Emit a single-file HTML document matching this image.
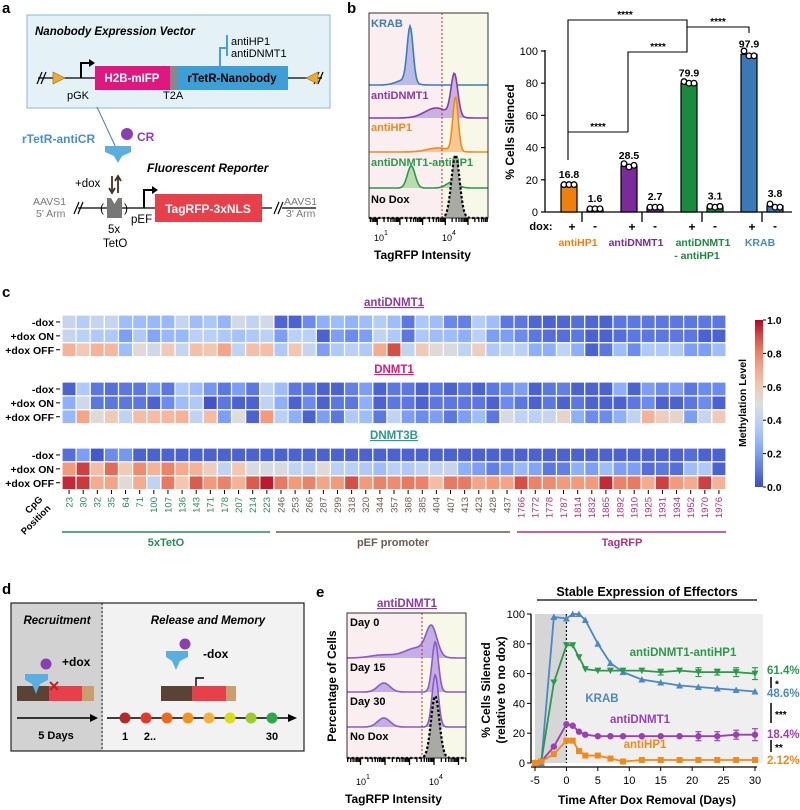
<!DOCTYPE html>
<html><head><meta charset="utf-8"><style>
html,body{margin:0;padding:0;background:#fff;}
svg{display:block;font-family:"Liberation Sans",Arial,sans-serif;}
.b{font-weight:bold;}
</style></head><body>
<svg id="fig" width="800" height="810" viewBox="0 0 800 810" xmlns="http://www.w3.org/2000/svg">
<text x="2" y="13" class="b" font-size="15">a</text>
<text x="347" y="13" class="b" font-size="15">b</text>
<text x="2" y="297" class="b" font-size="15">c</text>
<text x="2" y="594" class="b" font-size="15">d</text>
<text x="316" y="597" class="b" font-size="15">e</text>

<g>
<rect x="27" y="15" width="303" height="93" fill="#e4f2f7" stroke="#9cc3d6" stroke-width="1.2"/>
<text x="35" y="35" font-size="11.5" font-weight="bold" font-style="italic">Nanobody Expression Vector</text>
<path d="M220,67 L220,48 L227,48 M227,35 L227,56" stroke="#4a9fd6" stroke-width="2" fill="none"/>
<text x="231" y="45" font-size="11">antiHP1</text>
<text x="231" y="57" font-size="11">antiDNMT1</text>
<line x1="38" y1="78" x2="322" y2="78" stroke="#000" stroke-width="1.3"/>
<path d="M37,84 L42,72 M41,84 L46,72 M314,84 L319,72 M318,84 L323,72" stroke="#000" stroke-width="1.2"/>
<polygon points="53,72 65,78 53,84" fill="#f2a92a" stroke="#8a6a20" stroke-width="0.6"/>
<polygon points="318,72 306,78 318,84" fill="#f2a92a" stroke="#8a6a20" stroke-width="0.6"/>
<path d="M81,78 L81,63 L90,63" stroke="#000" stroke-width="2" fill="none"/><polygon points="89,59 95,63 89,67" fill="#000"/>
<text x="67" y="99" font-size="11">pGK</text>
<rect x="95" y="66" width="75" height="24" fill="#e0177e"/>
<text x="132" y="82" font-size="11.5" fill="#fff" font-weight="bold" text-anchor="middle">H2B-mIFP</text>
<rect x="170" y="66" width="7" height="24" fill="#888"/>
<text x="163" y="99" font-size="11">T2A</text>
<rect x="177" y="66" width="111" height="24" fill="#3d9fd6"/>
<text x="232" y="82" font-size="11.5" font-weight="bold" text-anchor="middle">rTetR-Nanobody</text>
</g>
<g>
<line x1="97" y1="107" x2="117" y2="150" stroke="#4a7fa8" stroke-width="1"/>
<text x="22" y="143" font-size="12" font-weight="bold" fill="#4a8fcc">rTetR-antiCR</text>
<circle cx="127" cy="134" r="6" fill="#8a3fb0"/>
<text x="137" y="141" font-size="12" font-weight="bold" fill="#8a3fb0">CR</text>
<path d="M105,146 L131,146 L131,152 L122,156 L118,163 L114,156 L105,152 Z" fill="#5aaee0"/>
<text x="147" y="172" font-size="12" font-weight="bold" font-style="italic">Fluorescent Reporter</text>
<text x="75" y="187" font-size="11.5">+dox</text>
<path d="M112,176 L112,192 M109,188 L112,193 L115,188 M118,193 L118,177 M115,181 L118,176 L121,181" stroke="#4a3020" stroke-width="1.8" fill="none"/>
<line x1="78" y1="208" x2="272" y2="208" stroke="#000" stroke-width="1.3"/>
<line x1="282" y1="208" x2="316" y2="208" stroke="#000" stroke-width="1.3"/>
<path d="M74,214 L79,202 M78,214 L83,202 M274,214 L279,202 M278,214 L283,202" stroke="#000" stroke-width="1.2"/>
<text x="33" y="205" font-size="10.5" fill="#777">AAVS1</text>
<text x="36" y="217" font-size="10.5" fill="#777">5' Arm</text>
<text x="284" y="205" font-size="10.5" fill="#777">AAVS1</text>
<text x="286" y="217" font-size="10.5" fill="#777">3' Arm</text>
<text x="100" y="212" font-size="12">(</text>
<text x="124" y="212" font-size="12">)</text>
<path d="M107,198 L111,198 L114.5,204 L118,198 L122,198 L122,218 L107,218Z" fill="#777"/>
<text x="108" y="233" font-size="11.5">5x</text>
<text x="103" y="247" font-size="11.5">TetO</text>
<text x="131" y="223" font-size="11.5">pEF</text>
<path d="M144,208 L144,190 L153,190" stroke="#000" stroke-width="2" fill="none"/><polygon points="152,186 158,190 152,194" fill="#000"/>
<rect x="155" y="194" width="107" height="28" fill="#e8404a"/>
<text x="208" y="213" font-size="12" font-weight="bold" fill="#fff" text-anchor="middle">TagRFP-3xNLS</text>
</g>

<g>
<rect x="11" y="603" width="92" height="148" fill="#d2d2d2"/>
<rect x="103" y="603" width="201" height="148" fill="#f2f2f2"/>
<rect x="11" y="603" width="293" height="148" fill="none" stroke="#222" stroke-width="1.2"/>
<line x1="102" y1="603" x2="102" y2="751" stroke="#222" stroke-width="1" stroke-dasharray="2,2"/>
<text x="57" y="624" font-size="11.5" font-weight="bold" font-style="italic" text-anchor="middle">Recruitment</text>
<text x="208" y="624" font-size="11.5" font-weight="bold" font-style="italic" text-anchor="middle">Release and Memory</text>
<rect x="17" y="686" width="32" height="15" fill="#5a4335"/><rect x="49" y="686" width="33" height="15" fill="#e8404a"/><rect x="82" y="686" width="12" height="15" fill="#c8a070"/>
<path d="M25,674 L48,674 L48,680 L40,684 L36,694 L32,684 L25,680Z" fill="#5aaee0"/>
<circle cx="46" cy="664" r="5.5" fill="#8a3fb0"/>
<path d="M50,690 L58,682 M50,682 L58,690" stroke="#c02020" stroke-width="2"/>
<text x="62" y="666" font-size="12" font-weight="bold">+dox</text>
<line x1="17" y1="718" x2="92" y2="718" stroke="#000" stroke-width="1.5"/><polygon points="90,714 98,718 90,722" fill="#000"/>
<text x="56" y="739" font-size="11" font-weight="bold" text-anchor="middle">5 Days</text>
<rect x="161" y="686" width="31" height="15" fill="#5a4335"/><rect x="192" y="686" width="34" height="15" fill="#e8404a"/><rect x="226" y="686" width="10" height="15" fill="#c8a070"/>
<path d="M196,686 L196,678 L204,678" stroke="#000" stroke-width="1.4" fill="none"/>
<path d="M166,651 L188,651 L188,657 L180,661 L176,670 L172,661 L166,657Z" fill="#5aaee0"/>
<circle cx="185" cy="644" r="5.5" fill="#8a3fb0"/>
<text x="203" y="658" font-size="12" font-weight="bold">-dox</text>
<line x1="107" y1="718" x2="290" y2="718" stroke="#000" stroke-width="1.5"/><polygon points="288,714 297,718 288,722" fill="#000"/>
<g id="dots"></g>
<text x="125" y="740" font-size="11" font-weight="bold" text-anchor="middle">1</text>
<text x="150" y="740" font-size="11" font-weight="bold" text-anchor="middle">2..</text>
<text x="272" y="740" font-size="11" font-weight="bold" text-anchor="middle">30</text>
</g>
<g id="dyn"></g>
</svg>
<script>
const NS='http://www.w3.org/2000/svg';
const svg=document.getElementById('dyn');
function mk(tag,attrs,parent){const e=document.createElementNS(NS,tag);for(const k in attrs)e.setAttribute(k,attrs[k]);(parent||svg).appendChild(e);return e;}
function txt(x,y,s,size,opts,parent){const e=mk('text',Object.assign({x:x,y:y,'font-size':size},opts||{}),parent);e.textContent=s;return e;}

const dotColors=['#b22a2a','#e03a2a','#ee6a1a','#f2931a','#f5b040','#d8dc1a','#9ccc2a','#2aa84a'];
dotColors.forEach((c,i)=>{const d=mk('circle',{cx:125+i*21,cy:718,r:5.5,fill:c},document.getElementById('dots'));

});

// ================= Panel b histogram =================
const bRows=['KRAB','antiDNMT1','antiHP1','antiDNMT1-antiHP1','No Dox'];
const bPeakMean=[[2.45,2.2],[4.4,3.6],[4.45,3.7],[2.5,4.3],[4.45]];
const bPeakSd=[[0.13,0.35],[0.15,0.5],[0.12,0.5],[0.17,0.25],[0.18]];
const bPeakAmp=[[55,5],[42,10],[54,4],[22,6],[63]];
function histPath(means,sds,amps,x0,dec,xa,xb,base){
  const pts=[];
  for(let x=xa;x<=xb;x+=1){const l=(x-x0)/dec;let v=0;for(let k=0;k<means.length;k++){v+=amps[k]*Math.exp(-0.5*Math.pow((l-means[k])/sds[k],2));}pts.push([x,base-v]);}
  return pts;
}
(function(){
  const X0=354.5,DEC=22.7,XA=369,XB=488,TOP=13,BOT=218;
  const bases=[85,118,152,188,218];
  const fills=['#b9bce6','#c7b2e0','#f9c894','#b8dcae','#a9aba2'];
  const strokes=['#3a7cc0','#8a3aa8','#f08a1a','#2a9a4a','#000'];
  const g=mk('g',{});
  
  
  const bgL=mk('rect',{x:XA,y:TOP,width:442-XA,height:BOT-TOP,fill:'#fbeef0'},g);
  
  
  const bgR=mk('rect',{x:442,y:TOP,width:XB-442,height:BOT-TOP,fill:'#f7f8e8'},g);
  
  
  for(let r=0;r<bRows.length;r++){
    const pts=histPath(bPeakMean[r],bPeakSd[r],bPeakAmp[r],X0,DEC,XA,XB,bases[r]);
    const line='M'+pts.map(p=>p[0]+','+p[1].toFixed(1)).join(' L');
    const area=mk('path',{d:line+' L'+XB+','+bases[r]+' L'+XA+','+bases[r]+'Z',fill:fills[r],stroke:'none'},g);
    
    
    const ln=mk('path',{d:line,fill:'none',stroke:strokes[r],'stroke-width':r==4?2.2:1.6,'stroke-dasharray':r==4?'2.5,2':'none'},g);
    
    
    const t=txt(371,[27,99,131,166,203][r],bRows[r],11,{'font-weight':'bold',fill:strokes[r]},g);
    
    
  }
  const th=mk('line',{x1:442,y1:TOP,x2:442,y2:BOT,stroke:'#c03030','stroke-width':1,'stroke-dasharray':'2,2'},g);
  
  
  mk('rect',{x:XA,y:TOP,width:XB-XA,height:BOT-TOP,fill:'none',stroke:'#333','stroke-width':1},g);
  for(let dcd=0;dcd<6;dcd++)for(let m=1;m<10;m++){const x=X0+(dcd+Math.log10(m))*DEC;if(x<XA||x>XB)continue;mk('line',{x1:x,y1:BOT,x2:x,y2:BOT+(m==1?7:4),stroke:'#000','stroke-width':1.3},g);}
  txt(374,241,'10',9,{},g);txt(384,235,'1',7,{},g);
  txt(442,241,'10',9,{},g);txt(452,235,'4',7,{},g);
  const xl=txt(374,259,'TagRFP Intensity',12,{'font-weight':'bold'},g);
  
  
})();

// ================= Panel b bar chart =================
const barCats=['antiHP1','antiDNMT1','antiDNMT1\n- antiHP1','KRAB'];
const barPlus=[16.8,28.5,79.9,97.9];
const barMinus=[1.6,2.7,3.1,3.8];
const repPlus=[[17,17,17],[30,28,29],[81,80,80],[100,97,97]];
const repMinus=[[2,2,2],[3,3,3],[3.5,3,3.5],[5,3,3]];
const barTicks=[0,20,40,60,80,100];
(function(){
  const y=v=>212-v*1.61;const gx=i=>569+i*60;
  const cols=['#f07f0c','#7b2a9a','#1a8a3e','#3a78b8'];
  const g=mk('g',{});
  
  
  barTicks.forEach(t=>{mk('line',{x1:541,y1:y(t),x2:545,y2:y(t),stroke:'#000','stroke-width':1.2},g);
    const tl=txt(538,y(t)+4,String(t),11,{'text-anchor':'end'},g);
    
    });
  mk('line',{x1:545,y1:y(100)-1,x2:545,y2:212,stroke:'#000','stroke-width':1.3},g);
  mk('line',{x1:545,y1:212,x2:792,y2:212,stroke:'#000','stroke-width':1.3},g);
  const yt=txt(0,0,'% Cells Silenced',12,{'font-weight':'bold','text-anchor':'middle',transform:'translate(514,132) rotate(-90)'},g);
  
  
  const dx=txt(541,230,'dox:',11,{'font-weight':'bold','text-anchor':'middle'},g);
  
  
  barCats.forEach((c,i)=>{
    const bp=mk('rect',{x:gx(i)-8,y:y(barPlus[i]),width:16,height:212-y(barPlus[i]),fill:cols[i],stroke:'#000','stroke-width':1.2},g);
    
    
    const bm=mk('rect',{x:gx(i)+18,y:y(barMinus[i]),width:16,height:212-y(barMinus[i]),fill:cols[i],stroke:'#000','stroke-width':1.2},g);
    
    
    repPlus[i].forEach((v,k)=>{const p=mk('circle',{cx:gx(i)-5+k*5,cy:y(v),r:2.8,fill:'#fff',stroke:'#000','stroke-width':1.3},g);
      
      });
    repMinus[i].forEach((v,k)=>{const p=mk('circle',{cx:gx(i)+21+k*5,cy:y(v),r:2.8,fill:'#fff',stroke:'#000','stroke-width':1.3},g);
      
      });
    const vp=txt(gx(i),y(barPlus[i])-7,barPlus[i].toFixed(1),10.5,{'font-weight':'bold','text-anchor':'middle'},g);
    
    
    const vm=txt(gx(i)+26,y(repMinus[i][0])-7,barMinus[i].toFixed(1),10.5,{'font-weight':'bold','text-anchor':'middle'},g);
    
    
    mk('line',{x1:gx(i)+13,y1:212,x2:gx(i)+13,y2:222,stroke:'#000','stroke-width':1.3},g);
    txt(gx(i)+3,231,'+',12,{'font-weight':'bold','text-anchor':'middle'},g);
    txt(gx(i)+26,230,'-',12,{'font-weight':'bold','text-anchor':'middle'},g);
    const parts=c.split('\n');const cx=[578,636,703,760][i];
    parts.forEach((s,k)=>{const gl=txt(k?697:cx,246+k*13,s,10.5,{'font-weight':'bold','text-anchor':'middle',fill:cols[i]==='#3a78b8'?'#4a88c8':cols[i]},g);
      
      });
  });
  const br='M568,160 L568,20 L687,20 L687,52 L628,52 L628,132 M568,132 L628,132 M687,27 L749,27 L749,33';
  const bk=mk('path',{d:br,fill:'none',stroke:'#000','stroke-width':1.1},g);
  
  
  [[625,18],[718,25],[658,50],[598,130]].forEach(p=>{const s=txt(p[0],p[1],'****',10,{'font-weight':'bold','text-anchor':'middle'},g);
    
    });
})();

// ================= Panel c heatmap =================
const hmCols=['23','30','32','35','64','71','100','107','136','143','171','178','207','214','223','246','253','266','287','299','318','320','344','357','368','385','404','407','413','423','428','437','1766','1772','1778','1787','1814','1832','1865','1892','1910','1925','1931','1934','1952','1970','1976'];
const hmRows=['-dox','+dox ON','+dox OFF'];
const antiDNMT1_minus=[0.42,0.36,0.42,0.42,0.3,0.3,0.28,0.28,0.42,0.3,0.34,0.27,0.46,0.4,0.46,0.06,0.05,0.15,0.25,0.3,0.26,0.3,0.36,0.3,0.1,0.34,0.3,0.14,0.12,0.36,0.3,0.1,0.1,0.06,0.05,0.06,0.08,0.06,0.05,0.1,0.1,0.1,0.1,0.1,0.1,0.1,0.1];
const antiDNMT1_on=[0.42,0.38,0.35,0.35,0.2,0.35,0.22,0.28,0.28,0.38,0.38,0.35,0.32,0.35,0.38,0.2,0.38,0.38,0.05,0.2,0.15,0.2,0.4,0.35,0.1,0.34,0.3,0.3,0.25,0.38,0.2,0.2,0.15,0.1,0.08,0.08,0.1,0.05,0.05,0.08,0.1,0.1,0.1,0.1,0.1,0.05,0.05];
const antiDNMT1_off=[0.68,0.6,0.68,0.66,0.3,0.52,0.45,0.6,0.42,0.64,0.62,0.72,0.4,0.64,0.64,0.35,0.62,0.42,0.2,0.35,0.38,0.35,0.7,0.9,0.4,0.6,0.52,0.48,0.4,0.58,0.35,0.4,0.38,0.25,0.25,0.4,0.25,0.05,0.1,0.3,0.15,0.35,0.35,0.35,0.2,0.2,0.3];
const DNMT1_minus=[0.05,0.35,0.1,0.08,0.1,0.1,0.2,0.1,0.35,0.3,0.18,0.1,0.2,0.1,0.4,0.3,0.1,0.1,0.05,0.05,0.12,0.2,0.05,0.1,0.1,0.05,0.1,0.05,0.1,0.05,0.1,0.15,0.2,0.05,0.1,0.12,0.05,0.05,0.05,0.25,0.05,0.2,0.15,0.2,0.1,0.15,0.15];
const DNMT1_on=[0.25,0.45,0.1,0.1,0.1,0.1,0.05,0.15,0.3,0.35,0.02,0.1,0.05,0.05,0.4,0.25,0.05,0.15,0.05,0.1,0.1,0.25,0.05,0.1,0.1,0.05,0.1,0.1,0.1,0.1,0.05,0.15,0.1,0.05,0.1,0.05,0.1,0.05,0.05,0.05,0.1,0.15,0.05,0.05,0.1,0.15,0.05];
const DNMT1_off=[0.28,0.72,0.52,0.6,0.4,0.65,0.65,0.66,0.68,0.4,0.65,0.2,0.5,0.05,0.75,0.38,0.25,0.05,0.2,0.1,0.35,0.3,0.1,0.4,0.2,0.15,0.2,0.1,0.2,0.3,0.1,0.48,0.4,0.38,0.42,0.55,0.25,0.15,0.15,0.25,0.4,0.68,0.58,0.55,0.2,0.42,0.6];
const DNMT3B_minus=[0.08,0.2,0.03,0.15,0.18,0.05,0.05,0.05,0.05,0.05,0.05,0.05,0.05,0.05,0.05,0.05,0.05,0.05,0.05,0.05,0.05,0.05,0.05,0.05,0.05,0.05,0.05,0.05,0.05,0.05,0.05,0.05,0.05,0.05,0.05,0.05,0.05,0.05,0.05,0.05,0.05,0.05,0.05,0.05,0.08,0.05,0.05];
const DNMT3B_on=[0.75,0.92,0.65,0.85,0.6,0.78,0.68,0.8,0.7,0.68,0.58,0.4,0.62,0.48,0.48,0.48,0.4,0.4,0.52,0.38,0.38,0.35,0.3,0.38,0.35,0.4,0.4,0.42,0.25,0.2,0.12,0.2,0.28,0.22,0.1,0.12,0.25,0.2,0.3,0.2,0.2,0.08,0.1,0.08,0.3,0.35,0.05];
const DNMT3B_off=[0.95,0.93,0.7,0.72,0.52,0.7,0.4,0.82,0.62,0.88,0.75,0.8,0.68,0.88,0.97,0.82,0.75,0.8,0.72,0.75,0.9,0.75,0.8,0.78,0.82,0.8,0.65,0.82,0.82,0.72,0.75,0.72,0.9,0.8,0.78,0.75,0.75,0.75,0.95,0.8,0.82,0.7,0.92,0.75,0.7,0.92,0.68];
const hmGroups=['antiDNMT1','DNMT1','DNMT3B'];
const hmData=[[antiDNMT1_minus,antiDNMT1_on,antiDNMT1_off],[DNMT1_minus,DNMT1_on,DNMT1_off],[DNMT3B_minus,DNMT3B_on,DNMT3B_off]];
const cwStops=[[0,[59,76,192]],[0.125,[98,130,234]],[0.25,[141,176,254]],[0.375,[184,208,249]],[0.5,[221,221,221]],[0.625,[245,196,173]],[0.75,[244,154,123]],[0.875,[222,96,77]],[1,[180,4,38]]];
function cw(v){v=Math.max(0,Math.min(1,v));for(let i=1;i<cwStops.length;i++){if(v<=cwStops[i][0]){const a=cwStops[i-1],b=cwStops[i];const t=(v-a[0])/(b[0]-a[0]);const c=a[1].map((x,k)=>Math.round(x+(b[1][k]-x)*t));return 'rgb('+c.join(',')+')';}}return 'rgb(180,4,38)';}
(function(){
  const X0=62,CW=(726-62)/hmCols.length,RH=13.9;
  const tops=[315,382,448];
  const titleCols=['#8a3aa8','#e0177e','#2a9a8a'];
  const g=mk('g',{});
  
  
  hmGroups.forEach((gn,gi)=>{
    const tt=txt(394,tops[gi]-9,gn,11.5,{'font-weight':'bold','text-anchor':'middle',fill:titleCols[gi],'text-decoration':'underline'},g);
    
    
    hmRows.forEach((rn,ri)=>{
      const yy=tops[gi]+ri*RH;
      const rl=txt(54,yy+RH/2+4,rn,10.5,{'font-weight':'bold','text-anchor':'end'},g);
      
      
      mk('line',{x1:56,y1:yy+RH/2,x2:60,y2:yy+RH/2,stroke:'#000','stroke-width':1},g);
      hmData[gi][ri].forEach((v,ci)=>{
        const c=mk('rect',{x:X0+ci*CW,y:yy,width:CW,height:RH,fill:cw(v),stroke:'#fff','stroke-width':1.2},g);
        
        
      });
    });
  });
  hmCols.forEach((c,ci)=>{
    const x=X0+(ci+0.5)*CW;
    mk('line',{x1:x,y1:490,x2:x,y2:494,stroke:'#000','stroke-width':1},g);
    const col=ci<15?'#2a8a5a':(ci<32?'#6b5a50':'#b0307a');
    const t=txt(0,0,c,9.5,{fill:col,'text-anchor':'end',transform:'translate('+(x+3.3)+',497) rotate(-90)'},g);
    
    
  });
  const cp=txt(0,0,'CpG',9.5,{'font-weight':'bold','text-anchor':'middle',transform:'translate(36,507) rotate(-45)'},g);
  
  
  txt(0,0,'Position',9.5,{'font-weight':'bold','text-anchor':'middle',transform:'translate(38,522) rotate(-45)'},g);
  [[62,270,'#2a8a5a','5xTetO',166],[276,510,'#6b5a50','pEF promoter',393],[517,726,'#b0307a','TagRFP',622]].forEach(s=>{
    mk('line',{x1:s[0],y1:532,x2:s[1],y2:532,stroke:s[2],'stroke-width':1.5},g);
    const l=txt(s[4],546,s[3],11,{'font-weight':'bold','text-anchor':'middle',fill:s[2]},g);
    
    
  });
  const defs=mk('defs',{},g);const lg=mk('linearGradient',{id:'cwg',x1:0,y1:1,x2:0,y2:0},defs);
  for(let i=0;i<=10;i++)mk('stop',{offset:i/10,'stop-color':cw(i/10)},lg);
  const cb=mk('rect',{x:755,y:320,width:8,height:167,fill:'url(#cwg)'},g);
  
  
  ['0.0','0.2','0.4','0.6','0.8','1.0'].forEach((s,i)=>{const yy=487-i*33.4;mk('line',{x1:763,y1:yy,x2:766,y2:yy,stroke:'#000'},g);
    const t=txt(767,yy+4,s,10.5,{'font-weight':'bold'},g);
    
    });
  const ml=txt(0,0,'Methylation Level',10.5,{'font-weight':'bold','text-anchor':'middle',transform:'translate(746,403) rotate(-90)'},g);
  
  
})();

// ================= Panel e histogram =================
const eRows=['Day 0','Day 15','Day 30','No Dox'];
const ePeakMean=[[3.9,3.3,1.9],[4.05,1.95],[4.05,1.95],[4.05]];
const ePeakSd=[[0.22,0.5,0.5],[0.13,0.25],[0.13,0.25],[0.17]];
const ePeakAmp=[[28,10,3],[50,9],[52,9],[62]];
(function(){
  const X0=336,DEC=24.5,XA=347,XB=466,TOP=613,BOT=758;
  const bases=[658,692,727,758];
  const g=mk('g',{});
  
  
  const tt=txt(407,607,'antiDNMT1',11.5,{'font-weight':'bold','text-anchor':'middle',fill:'#8a3aa8','text-decoration':'underline'},g);
  
  
  mk('rect',{x:XA,y:TOP,width:422-XA,height:BOT-TOP,fill:'#fbeef0'},g);
  mk('rect',{x:422,y:TOP,width:XB-422,height:BOT-TOP,fill:'#f7f8e8'},g);
  for(let r=0;r<eRows.length;r++){
    const pts=histPath(ePeakMean[r],ePeakSd[r],ePeakAmp[r],X0,DEC,XA,XB,bases[r]);
    const line='M'+pts.map(p=>p[0]+','+p[1].toFixed(1)).join(' L');
    const a=mk('path',{d:line+' L'+XB+','+bases[r]+' L'+XA+','+bases[r]+'Z',fill:r==3?'#a9aba2':'#c5aee6',stroke:'none'},g);
    
    
    const l=mk('path',{d:line,fill:'none',stroke:r==3?'#000':'#8a5ac8','stroke-width':r==3?2.2:1.6,'stroke-dasharray':r==3?'2.5,2':'none'},g);
    
    
    const t=txt(350,[626,671,705,740][r],eRows[r],11,{'font-weight':'bold'},g);
    
    
  }
  mk('line',{x1:422,y1:TOP,x2:422,y2:BOT,stroke:'#c03030','stroke-width':1,'stroke-dasharray':'2,2'},g);
  mk('rect',{x:XA,y:TOP,width:XB-XA,height:BOT-TOP,fill:'none',stroke:'#333'},g);
  for(let dcd=0;dcd<6;dcd++)for(let m=1;m<10;m++){const x=X0+(dcd+Math.log10(m))*DEC;if(x<XA||x>XB)continue;mk('line',{x1:x,y1:BOT,x2:x,y2:BOT+(m==1?7:4),stroke:'#000','stroke-width':1.3},g);}
  txt(356,785,'10',9,{},g);txt(366,779,'1',7,{},g);
  txt(429,785,'10',9,{},g);txt(439,779,'4',7,{},g);
  const xl=txt(345,803,'TagRFP Intensity',12,{'font-weight':'bold'},g);
  
  
  const yl=txt(0,0,'Percentage of Cells',12,{'font-weight':'bold','text-anchor':'middle',transform:'translate(336,686) rotate(-90)'},g);
  
  
})();

// ================= Panel e line chart =================
const days=[-5,-4,-2,0,1,2,3,5,7,9,12,15,18,21,24,27,30];
const krab=[0,0,98,97,100,100,96,80,67,61,56,54,52,51,50,49,48];
const combo=[0,1,54,79,79,71,63,62,62,62,62,61,62,61,61,61,60];
const antiDNMT1Line=[0,1,11,26,25,21,19,18,18,18,18,18,18,18,18,19,19];
const antiHP1Line=[0,1,6,15,15,8,5,5,3,1,2,2,2,2,2,2,2];
const comboErr=[0,0,0,0,0,0,0,0,0,0,0,2,0,3,2,3,4];
const dnmt1Err=[0,0,0,0,0,0,0,0,0,0,0,0,0,3,3,3,4];
const xTicks=[-5,0,5,10,15,20,25,30];
const yTicks=[0,20,40,60,80,100];
(function(){
  const xs=d=>535+(d+5)*220/35;const ys=v=>763-v*1.49;
  const g=mk('g',{});
  
  
  const t=txt(647,596,'Stable Expression of Effectors',12.5,{'font-weight':'bold','text-anchor':'middle'},g);
  
  
  mk('line',{x1:537,y1:600,x2:757,y2:600,stroke:'#000','stroke-width':1.2},g);
  mk('rect',{x:xs(0),y:ys(100),width:xs(30)-xs(0)+8,height:ys(0)-ys(100),fill:'#efefef'},g);
  const sh=mk('rect',{x:xs(-5),y:ys(100),width:xs(0)-xs(-5),height:ys(0)-ys(100),fill:'#d6d6d6'},g);
  
  
  mk('line',{x1:xs(0),y1:ys(100),x2:xs(0),y2:ys(0),stroke:'#000','stroke-width':1.2,'stroke-dasharray':'2,2'},g);
  mk('line',{x1:531,y1:ys(100),x2:531,y2:ys(0),stroke:'#000','stroke-width':1.3},g);
  mk('line',{x1:531,y1:ys(0)+4,x2:xs(30)+2,y2:ys(0)+4,stroke:'#000','stroke-width':1.3},g);
  yTicks.forEach(v=>{mk('line',{x1:527,y1:ys(v),x2:531,y2:ys(v),stroke:'#000'},g);
    const l=txt(525,ys(v)+4,String(v),11,{'text-anchor':'end'},g);
    
    });
  xTicks.forEach(v=>{mk('line',{x1:xs(v),y1:ys(0)+4,x2:xs(v),y2:ys(0)+8,stroke:'#000'},g);
    const l=txt(xs(v),ys(0)+21,String(v),11,{'text-anchor':'middle'},g);
    
    });
  const xl=txt(647,804,'Time After Dox Removal (Days)',12,{'font-weight':'bold','text-anchor':'middle'},g);
  
  
  const y1=txt(0,0,'%  Cells Silenced',12,{'font-weight':'bold','text-anchor':'middle',transform:'translate(490,690) rotate(-90)'},g);
  
  
  txt(0,0,'(relative to no dox)',12,{'font-weight':'bold','text-anchor':'middle',transform:'translate(505,690) rotate(-90)'},g);
  const series=[[krab,'#4a88c8','tri',null],[combo,'#2a9a4a','tridown',comboErr],[antiDNMT1Line,'#9b3fb5','circle',dnmt1Err],[antiHP1Line,'#f08a1a','square',null]];
  series.forEach(s=>{
    const d='M'+days.map((x,i)=>xs(x)+','+ys(s[0][i])).join(' L');
    const p=mk('path',{d:d,fill:'none',stroke:s[1],'stroke-width':1.8},g);
    
    
    days.forEach((x,i)=>{
      const cx=xs(x),cy=ys(s[0][i]);
      if(s[3]&&s[3][i]){mk('path',{d:'M'+cx+','+ys(s[0][i]+s[3][i])+' L'+cx+','+ys(s[0][i]-s[3][i])+' M'+(cx-3)+','+ys(s[0][i]+s[3][i])+' L'+(cx+3)+','+ys(s[0][i]+s[3][i])+' M'+(cx-3)+','+ys(s[0][i]-s[3][i])+' L'+(cx+3)+','+ys(s[0][i]-s[3][i]),stroke:s[1],'stroke-width':1.1,fill:'none'},g);}
      let m;
      if(s[2]=='tri')m=mk('polygon',{points:(cx-3.5)+','+(cy+3)+' '+(cx+3.5)+','+(cy+3)+' '+cx+','+(cy-3.5),fill:s[1]},g);
      else if(s[2]=='tridown')m=mk('polygon',{points:(cx-3.5)+','+(cy-3)+' '+(cx+3.5)+','+(cy-3)+' '+cx+','+(cy+3.5),fill:s[1]},g);
      else if(s[2]=='circle')m=mk('circle',{cx:cx,cy:cy,r:3.2,fill:s[1]},g);
      else m=mk('rect',{x:cx-3,y:cy-3,width:6,height:6,fill:s[1]},g);
      
      
    });
  });
  [['antiDNMT1-antiHP1',683,656,'#2a9a4a'],['KRAB',602,702,'#4a88c8'],['antiDNMT1',640,723,'#9b3fb5'],['antiHP1',645,748,'#f08a1a']].forEach(l=>{
    const e=txt(l[1],l[2],l[0],11.5,{'font-weight':'bold','text-anchor':'middle',fill:l[3]},g);
    
    });
  [['61.4%',674,'#2a9a4a'],['48.6%',697,'#4a88c8'],['18.4%',738,'#9b3fb5'],['2.12%',764,'#f08a1a']].forEach(l=>{
    const e=txt(767,l[1],l[0],11.5,{'font-weight':'bold',fill:l[2]},g);
    
    });
  [[677,688,'*'],[703,723,'***'],[740,752,'**']].forEach(s=>{
    mk('line',{x1:771,y1:s[0],x2:771,y2:s[1],stroke:'#000','stroke-width':1.5},g);
    const e=txt(775,(s[0]+s[1])/2+5,s[2],10,{'font-weight':'bold'},g);
    
    });
})();
</script>
</body></html>
